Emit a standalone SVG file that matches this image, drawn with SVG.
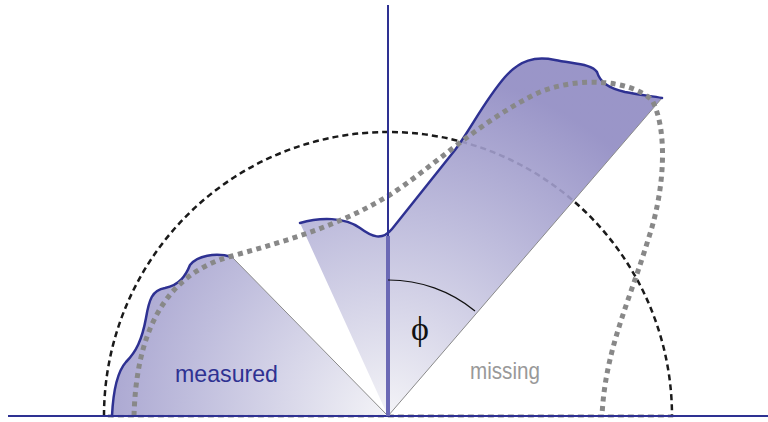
<svg xmlns="http://www.w3.org/2000/svg" width="768" height="422" viewBox="0 0 768 422">
<style>
.blue{fill:none;stroke:#2e3192;stroke-width:2.5;stroke-linecap:round;stroke-linejoin:round}
.edge{fill:none;stroke:#8a8a8a;stroke-width:1}
.dash{fill:none;stroke:#1a1a1a;stroke-width:2.5;stroke-dasharray:6 4}
.dot{fill:none;stroke:#888;stroke-width:5;stroke-dasharray:5 4.5}
.lbl{font-family:"Liberation Sans","DejaVu Sans",sans-serif;font-size:24px}
</style>
<defs>
<radialGradient id="g" gradientUnits="userSpaceOnUse" cx="388" cy="416" r="350">
<stop offset="0" stop-color="#f2f2f6"/>
<stop offset="0.55" stop-color="#bab8da"/>
<stop offset="1" stop-color="#8f8ac2"/>
</radialGradient>
</defs>
<g id="reference-circle">
<path class="dash" d="M104,416 A284,284 0 0 1 672,416 Z"/>
</g>
<g id="measured">
<path d="M388,416 L232,257 C215,252 197,256 190,265 C186,275 180,285 165,288 C152,290 149,300 146,318 C142,340 136,352 126,362 C117,372 113,395 112,416 Z" fill="url(#g)" fill-opacity="0.9"/>
<path class="edge" d="M388,416 L232,257"/>
<path class="blue" d="M232,257 C215,252 197,256 190,265 C186,275 180,285 165,288 C152,290 149,300 146,318 C142,340 136,352 126,362 C117,372 113,395 112,416"/>
<text class="lbl" x="175" y="382" fill="#2e3192" textLength="103" lengthAdjust="spacingAndGlyphs">measured</text>
</g>
<g id="lobe">
<path d="M388,416 L300,223 C320,217 345,217 360,228 C372,237 382,241 392,229 L455,150 C470,130 485,100 505,77 C520,60 535,56 555,60 C575,64 592,64 597,72 C600,82 608,88 625,92 C640,95 652,96 662,98 Z" fill="url(#g)" fill-opacity="0.9"/>
<path class="edge" d="M662,98 L388,416"/>
<path class="blue" d="M300,223 C320,217 345,217 360,228 C372,237 382,241 392,229 L455,150 C470,130 485,100 505,77 C520,60 535,56 555,60 C575,64 592,64 597,72 C600,82 608,88 625,92 C640,95 652,96 662,98"/>
</g>
<g id="model-curve">
<path class="dot" d="M134,416 C136,340 160,275 232,256 C290,240 340,225 388,196 C430,170 480,120 540,92 C580,76 630,80 652,100 C668,130 665,190 648,240 C630,300 605,350 602,416"/>
</g>
<g id="axes">
<line x1="8" y1="416" x2="768" y2="416" stroke="#2e3192" stroke-width="2"/>
<line x1="388" y1="5" x2="388" y2="416" stroke="#2e3192" stroke-width="2"/>
<line x1="388" y1="236" x2="388" y2="416" stroke="#6b69b5" stroke-width="4"/>
</g>
<g id="angle">
<path d="M388,280 A136,136 0 0 1 475,311" fill="none" stroke="#111" stroke-width="1.2"/>
<text x="420" y="340" font-family="Liberation Serif, DejaVu Serif, serif" font-size="34" text-anchor="middle" fill="#111">ϕ</text>
</g>
<g id="missing">
<text class="lbl" x="470" y="379" fill="#999" textLength="70" lengthAdjust="spacingAndGlyphs">missing</text>
</g>
</svg>
